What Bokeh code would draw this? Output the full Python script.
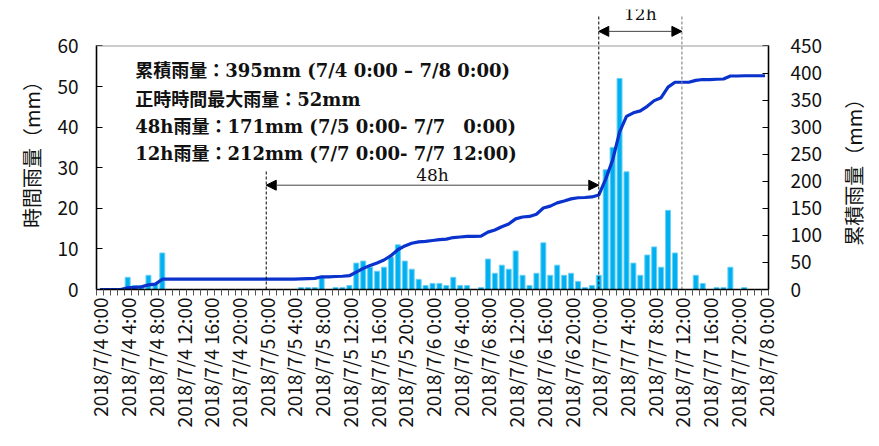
import numpy as np
from bokeh.plotting import figure
from bokeh.layouts import row
from bokeh.models import (Range1d, LinearAxis, FixedTicker, Span, Label, Arrow,
                          NormalHead, ColumnDataSource)
from bokeh.embed import file_html
from bokeh.resources import INLINE

# ---- data -------------------------------------------------------------
# hourly rainfall (mm), 2018/7/4 0:00 ... 2018/7/8 0:00 (97 hours)
rain_0704 = [0, 0, 0, 0, 3, 1, 1, 3.5, 1.5, 9, 0, 0,
             0, 0, 0, 0, 0, 0, 0, 0, 0, 0, 0, 0]
rain_0705 = [0, 0, 0, 0, 0, 0.5, 0.5, 0.5, 3, 0, 0.5, 0.5,
             1, 6.5, 7, 5.5, 4.5, 5.5, 8, 11, 7, 5, 2.5, 1]
rain_0706 = [1.5, 1.5, 1, 3, 1, 1, 0, 0.5, 7.5, 4, 6, 5,
             9.5, 3.5, 1, 4, 11.5, 3.5, 6, 3.5, 4, 2, 0.5, 1]
rain_0707 = [3.5, 29.5, 35, 52, 29, 6.5, 3.5, 8.5, 10.5, 5.5, 19.5, 9,
             0, 0, 3.5, 1.5, 0, 0.5, 0.5, 5.5, 0, 0.5, 0, 0]
rain_0708 = [0]
hourly = rain_0704 + rain_0705 + rain_0706 + rain_0707 + rain_0708

tick_labels = ["2018/7/4 0:00", "2018/7/4 4:00", "2018/7/4 8:00", "2018/7/4 12:00",
               "2018/7/4 16:00", "2018/7/4 20:00", "2018/7/5 0:00", "2018/7/5 4:00",
               "2018/7/5 8:00", "2018/7/5 12:00", "2018/7/5 16:00", "2018/7/5 20:00",
               "2018/7/6 0:00", "2018/7/6 4:00", "2018/7/6 8:00", "2018/7/6 12:00",
               "2018/7/6 16:00", "2018/7/6 20:00", "2018/7/7 0:00", "2018/7/7 4:00",
               "2018/7/7 8:00", "2018/7/7 12:00", "2018/7/7 16:00", "2018/7/7 20:00",
               "2018/7/8 0:00"]
tick_every = 4

notes = ["累積雨量：395mm (7/4 0:00 – 7/8 0:00)",
         "正時時間最大雨量：52mm",
         "48h雨量：171mm (7/5 0:00- 7/7　0:00)",
         "12h雨量：212mm (7/7 0:00- 7/7 12:00)"]
# period markers (hour index)
idx_48_start, idx_48_end, idx_12_end = 24, 72, 84

# ---- derived ----------------------------------------------------------
n = len(hourly)
x = list(range(n))
cumulative = np.cumsum(hourly)
src = ColumnDataSource(dict(x=x, rain=hourly, cum=cumulative))

# ---- layout -----------------------------------------------------------
W, H = 830, 430
W2 = 36
FL, FT = 96, 9
frame_w, frame_h = 672, 284
FR = W - FL - frame_w
FB = H - FT - frame_h
px_per_mm = 247 / 60.0
ymax = frame_h / px_per_mm

SANS = "Noto Sans CJK JP"
SERIF = "DejaVu Serif, Noto Sans CJK JP"

p = figure(width=W, height=H, output_backend="svg", toolbar_location=None,
           x_range=Range1d(-0.5, n - 0.5), y_range=Range1d(0, ymax),
           min_border_left=FL, min_border_right=FR, min_border_top=FT,
           min_border_bottom=FB)
p.outline_line_color = None
p.grid.visible = False
p.background_fill_color = "white"

p.extra_y_ranges = {"cum": Range1d(0, ymax * 7.5)}

# bars & line
p.vbar(x="x", top="rain", width=0.72, source=src, fill_color="#00B0F0",
       line_color="#6FD0F4", line_width=1)
p.line(x="x", y="cum", source=src, y_range_name="cum", line_color="#0A32CC",
       line_width=3.2)

# top frame border
p.add_layout(Span(location=60, dimension="width", line_color="#9a9a9a", line_width=1.2))

# x axis
xa = p.xaxis[0]
xa.ticker = FixedTicker(ticks=list(range(0, n, tick_every)),
                        minor_ticks=[i - 0.5 for i in range(n + 1)])
xa.major_label_overrides = {i * tick_every: lab for i, lab in enumerate(tick_labels)}
xa.major_label_orientation = np.pi / 2
xa.major_tick_line_color = None
xa.major_tick_out = 6
xa.minor_tick_out = 6
xa.minor_tick_in = 0
xa.minor_tick_line_color = "#555555"
xa.axis_line_color = "black"
xa.axis_line_width = 1.6
xa.major_label_text_font = SANS
xa.major_label_text_font_size = "19px"
xa.major_label_text_color = "#111111"
xa.major_label_standoff = 2

# left axis
ya = p.yaxis[0]
ya.bounds = (0, 60)
ya.ticker = FixedTicker(ticks=[0, 10, 20, 30, 40, 50, 60])
ya.major_tick_in = 6
ya.major_tick_out = 0
ya.minor_tick_line_color = None
ya.axis_line_color = "black"
ya.axis_line_width = 1.6
ya.major_label_text_font = SANS
ya.major_label_text_font_size = "19px"
ya.major_label_text_color = "#111111"
ya.major_label_standoff = 18
ya.axis_label = "時間雨量（mm）"
ya.axis_label_text_font = SANS
ya.axis_label_text_font_size = "20px"
ya.axis_label_text_font_style = "normal"
ya.axis_label_text_color = "#111111"
ya.axis_label_standoff = 8

# right axis
ra = LinearAxis(y_range_name="cum", bounds=(0, 450),
                ticker=FixedTicker(ticks=list(range(0, 451, 50))))
ra.major_tick_in = 6
ra.major_tick_out = 0
ra.minor_tick_line_color = None
ra.axis_line_color = "black"
ra.axis_line_width = 1.6
ra.major_label_text_font = SANS
ra.major_label_text_font_size = "19px"
ra.major_label_text_color = "#111111"
ra.major_label_standoff = 22
p.add_layout(ra, "right")

# notes
note_y = [53.9, 46.9, 40.1, 33.5]
for t, yy in zip(notes, note_y):
    p.add_layout(Label(x=5.1, y=yy, text=t, text_font=SERIF, text_font_size="18px",
                       text_font_style="bold", text_baseline="middle",
                       text_align="left", text_color="#111111"))

# period markers
p.segment(x0=[idx_48_start], y0=[0], x1=[idx_48_start], y1=[29.4],
          line_color="black", line_width=1, line_dash="3 2")
p.segment(x0=[idx_48_end], y0=[0], x1=[idx_48_end], y1=[67.3],
          line_color="black", line_width=1, line_dash="3 2")
p.segment(x0=[idx_12_end], y0=[0], x1=[idx_12_end], y1=[67.3],
          line_color="#888888", line_width=1.2, line_dash="3 2")

for (a, b, yy) in [(idx_48_start, idx_48_end, 25.7), (idx_48_end, idx_12_end, 63.6)]:
    p.add_layout(Arrow(x_start=a, x_end=b, y_start=yy, y_end=yy,
                       line_color="#444444", line_width=1,
                       start=NormalHead(size=10, fill_color="black", line_color="black"),
                       end=NormalHead(size=10, fill_color="black", line_color="black")))

p.add_layout(Label(x=(idx_48_start + idx_48_end) / 2, y=28.3, text="48h",
                   text_font=SERIF, text_font_size="17px", text_align="center",
                   text_baseline="middle", text_color="#111111"))
p.add_layout(Label(x=(idx_48_end + idx_12_end) / 2, y=68.0, text="12h",
                   text_font=SERIF, text_font_size="17px", text_align="center",
                   text_baseline="middle", text_color="#111111"))

# narrow companion panel holding the right-hand axis title (bottom-to-top)
p2 = figure(width=W2, height=H, output_backend="svg", toolbar_location=None,
            x_range=Range1d(0, 1), y_range=p.y_range,
            min_border_left=0, min_border_right=0, min_border_top=FT,
            min_border_bottom=FB)
p2.axis.visible = False
p2.grid.visible = False
p2.outline_line_color = None
p2.add_layout(Label(x=0.64, y=124 / px_per_mm, text="累積雨量（mm）", angle=np.pi / 2,
                    text_font=SANS, text_font_size="20px", text_align="center",
                    text_baseline="middle", text_color="#111111"))

open("out.html", "w").write(file_html(row(p, p2), INLINE))
